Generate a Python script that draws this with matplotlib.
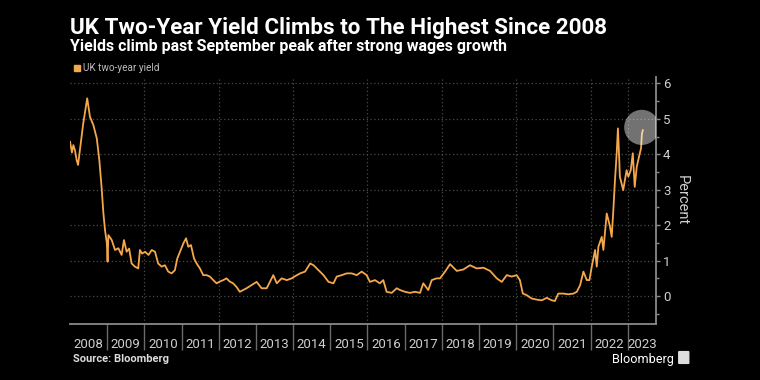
import matplotlib
matplotlib.use("Agg")
import matplotlib.pyplot as plt
import matplotlib.patches as mpatches
import pandas as pd
import numpy as np
from matplotlib import font_manager

# ---------------- data ----------------
dates = [
    "2008-01-02", "2008-01-20", "2008-02-03", "2008-02-20", "2008-03-06", "2008-03-20",
    "2008-04-07", "2008-05-10", "2008-06-18",
    "2008-07-15", "2008-08-18", "2008-09-20", "2008-10-15", "2008-11-06", "2008-11-24",
    "2008-12-10", "2008-12-28", "2009-01-04",
    "2009-01-12", "2009-02-14", "2009-03-18", "2009-04-20", "2009-05-22", "2009-06-14",
    "2009-07-10", "2009-08-04", "2009-08-28", "2009-09-30", "2009-11-01", "2009-11-18",
    "2009-12-08",
    "2010-01-08", "2010-02-10", "2010-03-14", "2010-04-15", "2010-05-16", "2010-06-19",
    "2010-07-21", "2010-08-23", "2010-09-25", "2010-10-27", "2010-11-20", "2010-12-23",
    "2011-01-19", "2011-02-14", "2011-03-08", "2011-04-03", "2011-05-03", "2011-05-29",
    "2011-06-30", "2011-08-02", "2011-09-04", "2011-10-06", "2011-11-08", "2011-12-11",
    "2012-01-12", "2012-02-14", "2012-03-17", "2012-04-18", "2012-05-21", "2012-06-23",
    "2012-07-26", "2012-08-28", "2012-09-30", "2012-11-18",
    "2013-01-07", "2013-02-25", "2013-04-16", "2013-06-20", "2013-07-24", "2013-09-10",
    "2013-10-30", "2013-12-18",
    "2014-01-20", "2014-03-10", "2014-04-28", "2014-06-17", "2014-07-20", "2014-09-07",
    "2014-10-26", "2014-12-14",
    "2015-02-01", "2015-03-05", "2015-04-23", "2015-06-11", "2015-07-30", "2015-09-17",
    "2015-11-05", "2015-12-24",
    "2016-01-25", "2016-03-14", "2016-05-02", "2016-06-04", "2016-07-07", "2016-08-26",
    "2016-10-14", "2016-11-16",
    "2017-01-04", "2017-02-22", "2017-04-12", "2017-05-31", "2017-07-02", "2017-08-20",
    "2017-09-23", "2017-11-11", "2017-12-14",
    "2018-02-01", "2018-03-22", "2018-05-27", "2018-07-31", "2018-10-04", "2018-12-08",
    "2019-02-13", "2019-04-19", "2019-06-24", "2019-08-12", "2019-09-30", "2019-11-18",
    "2020-01-05", "2020-02-06", "2020-03-06", "2020-04-10", "2020-06-01", "2020-07-19",
    "2020-09-08", "2020-10-27", "2020-12-15",
    "2021-01-15", "2021-02-17", "2021-04-08", "2021-05-27", "2021-07-16", "2021-08-18",
    "2021-09-20", "2021-10-22", "2021-11-24", "2021-12-20",
    "2022-01-12", "2022-02-14", "2022-03-02", "2022-03-18", "2022-04-20", "2022-05-06",
    "2022-06-08", "2022-07-10", "2022-07-27", "2022-08-12", "2022-08-28", "2022-09-14",
    "2022-09-26", "2022-10-08", "2022-10-15", "2022-11-01", "2022-11-17", "2022-12-20",
    "2023-01-06", "2023-01-30", "2023-02-19", "2023-03-10", "2023-03-30", "2023-04-21",
    "2023-05-11", "2023-05-20", "2023-05-29",
]
yields = [
    4.35, 4.05, 4.26, 4.10, 3.84, 3.70,
    4.12, 4.87, 5.58,
    5.06, 4.82, 4.45, 3.84, 3.08, 2.34,
    1.86, 1.49, 0.97,
    1.72, 1.58, 1.30, 1.35, 1.16, 1.58,
    1.25, 1.34, 0.92, 0.83, 0.78, 1.30,
    1.20,
    1.25, 1.16, 1.30, 1.25, 0.92, 0.83,
    0.87, 0.69, 0.64, 0.73, 1.06, 1.30,
    1.49, 1.63, 1.39, 1.44, 1.06, 0.92,
    0.78, 0.59, 0.59, 0.55, 0.45, 0.36,
    0.41, 0.45, 0.50, 0.41, 0.36, 0.26,
    0.12, 0.17, 0.22, 0.31,
    0.40, 0.22, 0.22, 0.59, 0.36, 0.50,
    0.45, 0.50,
    0.56, 0.64, 0.69, 0.92, 0.87, 0.73,
    0.59, 0.40,
    0.36, 0.55, 0.59, 0.64, 0.64, 0.59,
    0.69, 0.59,
    0.40, 0.45, 0.36, 0.45, 0.12, 0.09,
    0.22, 0.17,
    0.12, 0.09, 0.12, 0.09, 0.36, 0.17,
    0.45, 0.50, 0.50,
    0.69, 0.90, 0.71, 0.75, 0.87, 0.78,
    0.80, 0.71, 0.50, 0.40, 0.59, 0.55,
    0.59, 0.45, 0.07, 0.03, -0.07, -0.10,
    -0.12, -0.05, -0.12,
    -0.14, 0.07, 0.07, 0.05, 0.07, 0.12,
    0.31, 0.69, 0.45, 0.45,
    0.83, 1.30, 0.83, 1.39, 1.67, 1.30,
    2.33, 1.96, 1.67, 2.43, 3.27, 4.03,
    4.73, 3.93, 3.37, 3.18, 2.99, 3.55,
    3.37, 3.55, 4.03, 3.08, 3.65, 3.93,
    4.17, 4.59, 4.68,
]
series_name = "UK two-year yield"
year_labels = [str(y) for y in range(2008, 2024)]
y_ticks = [0, 1, 2, 3, 4, 5, 6]
highlight_date = "2023-05-18"
highlight_value = 4.76

title = "UK Two-Year Yield Climbs to The Highest Since 2008"
subtitle = "Yields climb past September peak after strong wages growth"
source = "Source: Bloomberg"

# ---------------- style ----------------
W, H = 760, 380
BG = "#000000"
LINE = "#F5A84B"
GRID = "#4a4a4a"
AXIS = "#8a8a8a"
TXT = "#cfcfcf"

names = {f.name for f in font_manager.fontManager.ttflist}
NARROW = "Liberation Sans Narrow" if "Liberation Sans Narrow" in names else "Roboto"
FAM = [NARROW, "DejaVu Sans"]
plt.rcParams["font.family"] = FAM

fig = plt.figure(figsize=(W / 100, H / 100), dpi=100, facecolor=BG)


def fx(px):
    return px / W


def fy(py):
    return 1 - py / H


ax = fig.add_axes([fx(70), fy(323.7), fx(656) - fx(70), fy(76.7) - fy(323.7)])
ax.set_facecolor(BG)

d = pd.to_datetime(dates)
ax.plot(d, yields, color=LINE, lw=1.3, zorder=3)

x0 = pd.Timestamp("2008-01-01")
x1 = pd.Timestamp("2023-10-05")
ax.set_xlim(x0, x1)
ax.set_ylim(-0.78, 6.19)

# spines
for s in ["top", "left"]:
    ax.spines[s].set_visible(False)
for s in ["bottom", "right"]:
    ax.spines[s].set_color(AXIS)
    ax.spines[s].set_linewidth(1.3)

# y axis on right
ax.yaxis.tick_right()
ax.set_yticks(y_ticks)
ax.set_yticklabels([str(v) for v in y_ticks])
ax.set_yticks(np.arange(-0.5, 6.0, 1.0), minor=True)
ax.tick_params(axis="y", which="major", length=3, width=1, color=AXIS,
               labelcolor=TXT, labelsize=9.5, pad=2)
ax.tick_params(axis="y", which="minor", length=2, width=1, color=AXIS)
ax.grid(axis="y", which="major", ls=(0, (1, 2)), color=GRID, lw=0.9, zorder=0)

# x axis: separators at year boundaries, labels centred in each year
sep = [pd.Timestamp(f"{y}-01-01") for y in range(2009, 2024)]
ax.set_xticks(sep)
ax.set_xticklabels([""] * len(sep))
ax.tick_params(axis="x", which="major", length=19, width=1, color="#6a6a6a")
mids = []
for y in range(2008, 2024):
    a = max(pd.Timestamp(f"{y}-01-01"), x0)
    b = min(pd.Timestamp(f"{y + 1}-01-01"), x1)
    mids.append(a + (b - a) / 2)
ax.set_xticks(mids, minor=True)
ax.set_xticklabels(year_labels, minor=True)
ax.tick_params(axis="x", which="minor", length=0, labelcolor=TXT, labelsize=9.5, pad=10)

for y in list(range(2010, 2024, 2)) + [2023]:
    ax.axvline(pd.Timestamp(f"{y}-01-01"), ls=(0, (1, 2)), color=GRID, lw=0.9, zorder=0)

# highlight circle
ax.scatter([pd.Timestamp(highlight_date)], [highlight_value], s=640, color="white",
           alpha=0.45, edgecolors="none", zorder=5)

# texts
t_title = fig.text(fx(70), fy(34.3), title, color="white", fontsize=13.5,
                   fontweight="bold", va="baseline", ha="left")
t_sub = fig.text(fx(70), fy(50.7), subtitle, color="white", fontsize=10,
                 fontweight="bold", va="baseline", ha="left")
fig.patches.append(mpatches.Rectangle((fx(74.3), fy(71.2)), fx(5.8), fy(65.4) - fy(71.2),
                                      transform=fig.transFigure, color=LINE))
t_leg = fig.text(fx(82.7), fy(68.3), series_name, color="#bdbdbd", fontsize=7,
                 va="center", ha="left")
fig.text(fx(681.7), fy(200), "Percent", rotation=270, color=TXT, fontsize=10.5,
         va="center", ha="center")
t_src = fig.text(fx(72.7), fy(359), source, color="#dddddd", fontsize=8,
                 fontweight="bold", va="center", ha="left")
t_bb = fig.text(fx(611.7), fy(359), "Bloomberg", color="white", fontsize=10.5,
                va="center", ha="left")
fig.patches.append(mpatches.FancyBboxPatch((fx(679.5), fy(363)), fx(8.5), fy(352) - fy(363),
                                           boxstyle="round,pad=0.001", transform=fig.transFigure,
                                           color="#dddddd"))

# fit text widths to reference
fig.canvas.draw()
r = fig.canvas.get_renderer()
for t, target in [(t_title, 536), (t_sub, 441), (t_leg, 77), (t_src, 96), (t_bb, 62)]:
    w = t.get_window_extent(renderer=r).width
    t.set_fontsize(t.get_fontsize() * target / w)

fig.savefig("out.png", dpi=100, facecolor=BG)
